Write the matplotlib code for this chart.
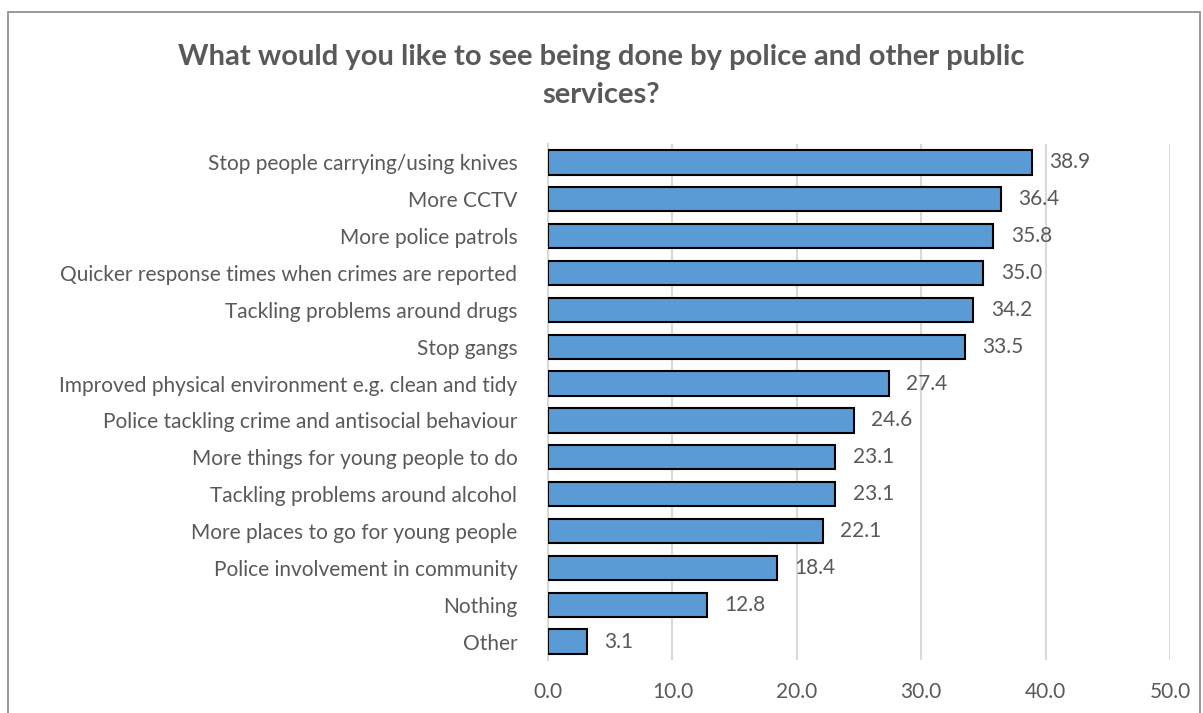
import matplotlib.pyplot as plt
from matplotlib.patches import Rectangle

# Data (top to bottom as shown)
categories = [
    "Stop people carrying/using knives",
    "More CCTV",
    "More police patrols",
    "Quicker response times when crimes are reported",
    "Tackling problems around drugs",
    "Stop gangs",
    "Improved physical environment e.g. clean and tidy",
    "Police tackling crime and antisocial behaviour",
    "More things for young people to do",
    "Tackling problems around alcohol",
    "More places to go for young people",
    "Police involvement in community",
    "Nothing",
    "Other",
]
values = [38.9, 36.4, 35.8, 35.0, 34.2, 33.5, 27.4, 24.6, 23.1, 23.1, 22.1, 18.4, 12.8, 3.1]
xticks = [0, 10, 20, 30, 40, 50]

text_col = "#595959"
plt.rcParams['font.family'] = ['Lato', 'DejaVu Sans']

fig = plt.figure(figsize=(12.03, 7.13), dpi=100)
ax = fig.add_axes([548 / 1203, 1 - 660 / 713, (1170 - 548) / 1203, (660 - 144) / 713])

y = list(range(len(categories)))
ax.barh(y, values, height=0.66, color="#5B9BD5", edgecolor="black", linewidth=1.5, zorder=3)
for yi, v in zip(y, values):
    ax.text(v + 1.4, yi, f"{v:.1f}", va="center", ha="left", fontsize=15, color=text_col)

ax.set_ylim(len(categories) - 0.5, -0.5)
ax.set_xlim(0, 50)
ax.set_yticks(y)
ax.set_yticklabels(categories, fontsize=15, color=text_col)
ax.set_xticks(xticks)
ax.set_xticklabels([f"{t:.1f}" for t in xticks], fontsize=15, color=text_col)
ax.tick_params(axis="both", length=0)
ax.tick_params(axis="y", pad=22)
ax.tick_params(axis="x", pad=16)
ax.grid(axis="x", color="#d9d9d9", linewidth=1.5, zorder=0)
for s in ["top", "right", "bottom"]:
    ax.spines[s].set_visible(False)
ax.spines["left"].set_color("#d9d9d9")
ax.spines["left"].set_linewidth(1.5)

fig.text(0.5, 1 - 76 / 713, "What would you like to see being done by police and other public\nservices?",
         ha="center", va="center", fontsize=21, fontweight="bold", color=text_col, linespacing=1.6)

# outer chart border
fig.patches.append(Rectangle((8 / 1203, -0.01), (1200 - 8) / 1203, 1 - 12 / 713 + 0.01,
                             transform=fig.transFigure, fill=False, edgecolor="#888888", linewidth=1.2))

fig.savefig("out.png", dpi=100)
